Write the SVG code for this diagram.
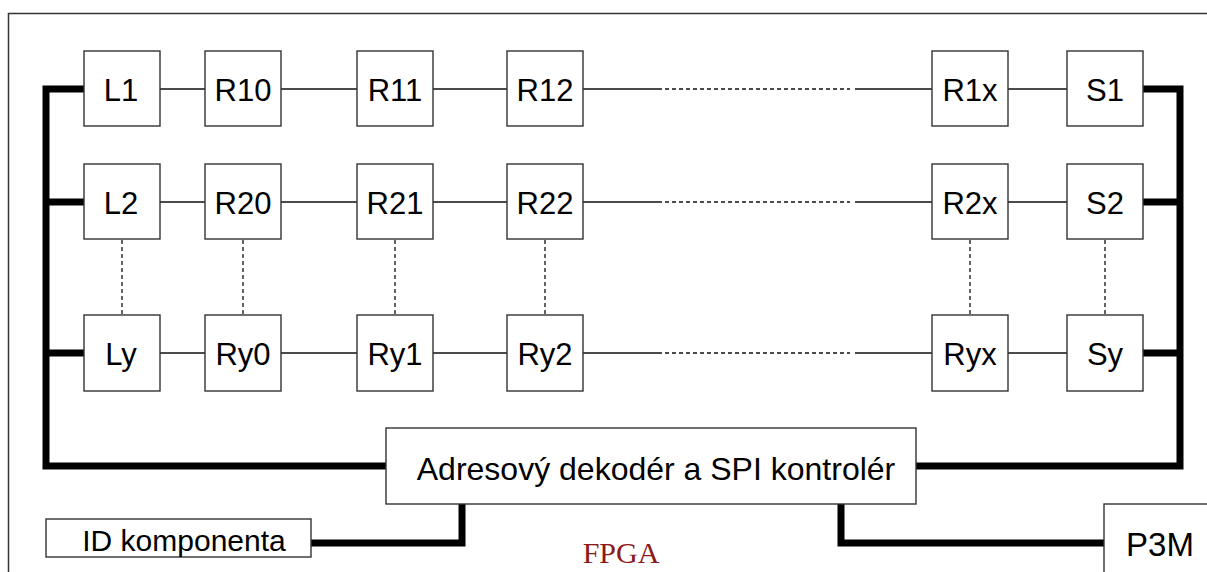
<svg xmlns="http://www.w3.org/2000/svg" width="1207" height="572" viewBox="0 0 1207 572">
<style>
.box{fill:#fff;stroke:#333;stroke-width:1.4}
.lbl{font-family:"Liberation Sans",Arial,sans-serif;font-size:31px;fill:#000;text-anchor:middle}
.thin{stroke:#111;stroke-width:1.3;fill:none}
.dash{stroke:#111;stroke-width:1.3;fill:none;stroke-dasharray:4 3}
.vdash{stroke:#111;stroke-width:1.3;fill:none;stroke-dasharray:4 3}
.bus{stroke:#000;stroke-width:7;fill:none;stroke-linejoin:miter;stroke-linecap:butt}
</style>
<rect x="0" y="0" width="1207" height="572" fill="#fff"/>
<rect id="frame" x="8.5" y="13.5" width="1220" height="600" fill="none" stroke="#333" stroke-width="1.5"/>
<g id="connectors">
  <path class="thin" d="M160,89H205M281,89H357M433,89H507M583,89H662M855,89H932M1008,89H1067"/>
  <path class="dash" d="M665,89H850"/>
  <path class="thin" d="M160,202H205M281,202H357M433,202H507M583,202H662M855,202H932M1008,202H1067"/>
  <path class="dash" d="M665,202H850"/>
  <path class="thin" d="M160,353H205M281,353H357M433,353H507M583,353H662M855,353H932M1008,353H1067"/>
  <path class="dash" d="M665,353H850"/>
  <path class="vdash" d="M122,240V315M243,240V315M395,240V315M545,240V315M970,240V315M1105,240V315"/>
  <path class="bus" d="M84,89H46V466H386"/>
  <path class="bus" d="M46,202H84M46,353H84"/>
  <path class="bus" d="M1143,89H1180V466H916"/>
  <path class="bus" d="M1143,202H1180M1143,353H1180"/>
  <path class="bus" d="M311,543H462V504"/>
  <path class="bus" d="M841,504V543H1104"/>
</g>
<g id="L1"><rect class="box" x="84" y="51" width="76" height="75"/><text class="lbl" x="121" y="101">L1</text></g>
<g id="R10"><rect class="box" x="205" y="51" width="76" height="75"/><text class="lbl" x="243" y="101">R10</text></g>
<g id="R11"><rect class="box" x="357" y="51" width="76" height="75"/><text class="lbl" x="395" y="101">R11</text></g>
<g id="R12"><rect class="box" x="507" y="51" width="76" height="75"/><text class="lbl" x="545" y="101">R12</text></g>
<g id="R1x"><rect class="box" x="932" y="51" width="76" height="75"/><text class="lbl" x="970" y="101">R1x</text></g>
<g id="S1"><rect class="box" x="1067" y="51" width="76" height="75"/><text class="lbl" x="1105" y="101">S1</text></g>
<g id="L2"><rect class="box" x="84" y="164" width="76" height="75"/><text class="lbl" x="121" y="214">L2</text></g>
<g id="R20"><rect class="box" x="205" y="164" width="76" height="75"/><text class="lbl" x="243" y="214">R20</text></g>
<g id="R21"><rect class="box" x="357" y="164" width="76" height="75"/><text class="lbl" x="395" y="214">R21</text></g>
<g id="R22"><rect class="box" x="507" y="164" width="76" height="75"/><text class="lbl" x="545" y="214">R22</text></g>
<g id="R2x"><rect class="box" x="932" y="164" width="76" height="75"/><text class="lbl" x="970" y="214">R2x</text></g>
<g id="S2"><rect class="box" x="1067" y="164" width="76" height="75"/><text class="lbl" x="1105" y="214">S2</text></g>
<g id="Ly"><rect class="box" x="84" y="315" width="76" height="76"/><text class="lbl" x="121" y="365">Ly</text></g>
<g id="Ry0"><rect class="box" x="205" y="315" width="76" height="76"/><text class="lbl" x="243" y="365">Ry0</text></g>
<g id="Ry1"><rect class="box" x="357" y="315" width="76" height="76"/><text class="lbl" x="395" y="365">Ry1</text></g>
<g id="Ry2"><rect class="box" x="507" y="315" width="76" height="76"/><text class="lbl" x="545" y="365">Ry2</text></g>
<g id="Ryx"><rect class="box" x="932" y="315" width="76" height="76"/><text class="lbl" x="970" y="365">Ryx</text></g>
<g id="Sy"><rect class="box" x="1067" y="315" width="76" height="76"/><text class="lbl" x="1105" y="365">Sy</text></g>
<g id="decoder"><rect class="box" x="386" y="428" width="530" height="76"/><text class="lbl" x="656" y="480" style="font-size:32px">Adresový dekodér a SPI kontrolér</text></g>
<g id="idcomp"><rect class="box" x="46" y="519" width="265" height="38"/><text class="lbl" x="184" y="551" style="font-size:30px">ID komponenta</text></g>
<g id="p3m"><rect class="box" x="1104" y="504" width="120" height="90"/><text class="lbl" x="1160" y="556" style="font-size:33px">P3M</text></g>
<text id="fpga" x="621" y="563" style="font-family:'Liberation Serif','Times New Roman',serif;font-size:30px;fill:#8b1a1a;text-anchor:middle">FPGA</text>
</svg>
